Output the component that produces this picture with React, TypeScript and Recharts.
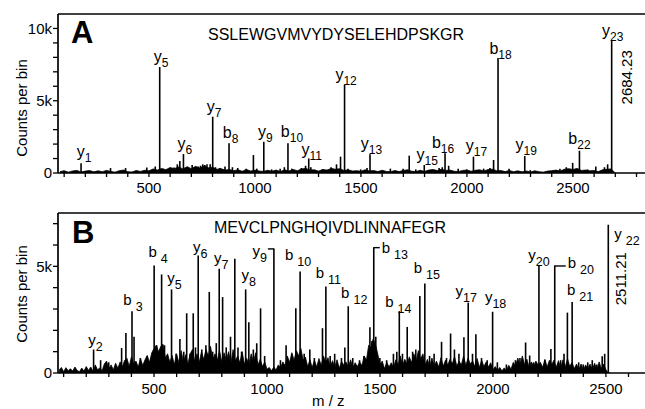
import { Area, AreaChart, Bar, BarChart, LabelList, ReferenceLine, XAxis, YAxis } from "recharts";

const FONT = "'Liberation Sans', Arial, Helvetica, sans-serif";
const INK = "#000";

// ---- Panel A: SSLEWGVMVYDYSELEHDPSKGR ----
const seqA = "SSLEWGVMVYDYSELEHDPSKGR";
const mzA = [
  181, 320, 391, 491, 531, 552, 600, 620, 635, 647,
  664, 690, 705, 720, 735, 745, 755, 765, 775, 790,
  802, 815, 835, 860, 879, 895, 920, 960, 994, 1010,
  1043, 1080, 1120, 1140, 1157, 1175, 1220, 1240, 1255, 1265,
  1320, 1360, 1386, 1405, 1424, 1440, 1500, 1530, 1544, 1640,
  1700, 1729, 1760, 1800, 1870, 1885, 1898, 1915, 1960, 2000,
  2032, 2080, 2110, 2127, 2148, 2200, 2274, 2300, 2440, 2470,
  2500, 2532, 2570, 2609, 2650, 2665, 2684,
];
const countsA = [
  670, 340, 340, 380, 450, 7330, 300, 380, 600, 830,
  1310, 350, 550, 400, 450, 500, 600, 550, 600, 600,
  3890, 400, 350, 450, 2050, 400, 350, 300, 1240, 300,
  2160, 250, 300, 400, 2050, 300, 350, 500, 1010, 400,
  250, 400, 600, 1130, 6120, 300, 250, 350, 1290, 300,
  300, 1200, 250, 550, 350, 400, 1360, 500, 300, 250,
  1130, 300, 350, 900, 7960, 300, 1170, 200, 300, 400,
  700, 1540, 250, 450, 400, 600, 9180,
];
const ionsA: Record<number, string> = {
  181: "y1", 552: "y5", 664: "y6", 802: "y7", 879: "b8", 1043: "y9", 1157: "b10",
  1255: "y11", 1424: "y12", 1544: "y13", 1800: "y15", 1898: "b16", 2032: "y17",
  2148: "b18", 2274: "y19", 2532: "b22", 2684: "y23",
};
// baseline noise, one value per 20 m/z bin starting at 80
const noiseStartA = 80;
const noiseStepA = 20;
const noiseA = [
  90, 160, 60, 140, 180, 70, 130, 170, 80, 150,
  90, 180, 110, 60, 160, 200, 90, 70, 170, 110,
  190, 150, 280, 200, 320, 230, 380, 300, 420, 280,
  440, 300, 460, 340, 480, 360, 400, 260, 300, 200,
  240, 160, 220, 120, 240, 130, 200, 140, 110, 190,
  120, 200, 100, 220, 140, 240, 160, 280, 320, 200,
  220, 130, 240, 200, 320, 260, 300, 180, 220, 140,
  160, 120, 220, 140, 170, 100, 190, 110, 90, 170,
  100, 180, 220, 120, 100, 190, 110, 200, 240, 170,
  260, 180, 200, 120, 100, 180, 200, 120, 190, 220,
  140, 240, 260, 160, 170, 100, 170, 90, 150, 80,
  140, 70, 150, 90, 60, 130, 160, 200, 140, 260,
  300, 240, 320, 180, 200, 150, 170, 100, 220, 260,
  280, 0,
];
const ticksXA = [100, 200, 300, 400, 500, 600, 700, 800, 900, 1000, 1100, 1200, 1300, 1400,
  1500, 1600, 1700, 1800, 1900, 2000, 2100, 2200, 2300, 2400, 2500, 2600, 2700, 2800];
const ticksYA = [0, 1000, 2000, 3000, 4000, 5000, 6000, 7000, 8000, 9000, 10000];

// ---- Panel B: MEVCLPNGHQIVDLINNAFEGR ----
const seqB = "MEVCLPNGHQIVDLINNAFEGR";
const mzB = [
  233, 264, 300, 357, 376, 403, 412, 440, 470, 501,
  512, 534, 547, 578, 598, 615, 632, 645, 660, 674,
  684, 696, 712, 730, 745, 760, 776, 789, 804, 820,
  839, 858, 872, 888, 906, 920, 940, 955, 972, 990,
  1031, 1060, 1085, 1110, 1128, 1147, 1165, 1190, 1210, 1246,
  1261, 1280, 1300, 1330, 1345, 1360, 1380, 1410, 1430, 1456,
  1465, 1473, 1482, 1500, 1530, 1560, 1575, 1586, 1600, 1621,
  1645, 1659, 1677, 1699, 1720, 1740, 1773, 1795, 1813, 1830,
  1850, 1872, 1891, 1910, 1925, 1950, 1975, 1999, 2020, 2060,
  2100, 2120, 2145, 2163, 2180, 2204, 2230, 2257, 2274, 2300,
  2315, 2330, 2351, 2380, 2400, 2420, 2440, 2460, 2484, 2495,
  2511,
];
const countsB = [
  1100, 600, 500, 1170, 1880, 2900, 1700, 700, 800, 5040,
  1300, 4620, 1300, 3920, 900, 1590, 1000, 2800, 900, 2800,
  1200, 5510, 1100, 1300, 3800, 1000, 1400, 4890, 3560, 1200,
  1700, 5350, 1200, 1000, 3920, 2380, 1100, 1400, 3030, 800,
  5840, 600, 1300, 900, 3030, 4760, 900, 1100, 700, 2100,
  4060, 800, 900, 700, 1200, 3130, 700, 600, 800, 2150,
  1500, 5900, 1700, 700, 600, 900, 1000, 2900, 900, 2160,
  1000, 1100, 3610, 4190, 800, 900, 1460, 700, 1850, 1100,
  900, 1670, 3300, 900, 1820, 700, 600, 2870, 500, 400,
  600, 700, 1430, 820, 500, 5040, 600, 1120, 5040, 600,
  900, 2830, 3330, 500, 400, 500, 600, 400, 790, 900,
  6950,
];
const ionsB: Record<number, string> = {
  233: "y2", 403: "b3", 501: "b4", 578: "y5", 696: "y6", 789: "y7", 906: "y8",
  1031: "y9", 1147: "b10", 1261: "b11", 1360: "b12", 1473: "b13", 1586: "b14",
  1699: "b15", 1891: "y17", 1999: "y18", 2204: "y20", 2274: "b20", 2351: "b21",
  2511: "y22",
};
// baseline noise, one value per 10 m/z bin starting at 80
const noiseStartB = 80;
const noiseStepB = 10;
const noiseB = [
  140, 260, 60, 250, 110, 200, 90, 280, 120, 60,
  230, 90, 300, 120, 280, 80, 380, 150, 240, 110,
  420, 560, 200, 380, 150, 460, 220, 520, 300, 600,
  700, 300, 760, 420, 560, 280, 680, 350, 620, 820,
  500, 950, 1150, 1300, 1000, 1250, 1350, 700, 900, 500,
  820, 400, 900, 480, 1050, 520, 860, 420, 900, 1100,
  560, 900, 500, 1000, 640, 1100, 800, 1250, 650, 900,
  600, 1050, 520, 950, 600, 1000, 450, 1100, 560, 800,
  480, 1000, 420, 700, 380, 900, 520, 950, 380, 650,
  300, 520, 180, 260, 100, 280, 140, 380, 250, 520,
  350, 800, 500, 950, 600, 1050, 800, 1150, 600, 750,
  300, 620, 260, 600, 280, 680, 350, 800, 500, 720,
  300, 580, 260, 620, 220, 540, 380, 520, 280, 620,
  260, 480, 300, 520, 350, 800, 600, 1300, 1200, 1600,
  1350, 900, 380, 560, 200, 500, 280, 480, 250, 620,
  380, 800, 350, 640, 420, 760, 480, 900, 560, 1050,
  650, 900, 380, 640, 300, 700, 320, 560, 280, 720,
  320, 600, 380, 640, 420, 780, 320, 560, 380, 800,
  360, 700, 420, 560, 300, 680, 260, 600, 300, 520,
  280, 480, 150, 300, 120, 260, 100, 240, 120, 360,
  180, 500, 320, 700, 360, 800, 400, 650, 280, 520,
  300, 560, 380, 500, 260, 640, 280, 600, 400, 600,
  260, 580, 240, 620, 280, 680, 300, 500, 200, 420,
  140, 420, 120, 380, 200, 420, 160, 460, 150, 520,
  200, 420, 160, 0, 0,
];
const ticksXB = [100, 200, 300, 400, 500, 600, 700, 800, 900, 1000, 1100, 1200, 1300,
  1400, 1500, 1600, 1700, 1800, 1900, 2000, 2100, 2200, 2300, 2400, 2500, 2600];
const ticksYB = [0, 1000, 2000, 3000, 4000, 5000, 6000, 7000];

const peaksA = mzA.map((mz, i) => ({ mz, counts: countsA[i], ion: ionsA[mz] ?? "" }));
const peaksB = mzB.map((mz, i) => ({ mz, counts: countsB[i], ion: ionsB[mz] ?? "" }));
const binsA = noiseA.map((counts, i) => ({ mz: noiseStartA + i * noiseStepA, counts }));
const binsB = noiseB.map((counts, i) => ({ mz: noiseStartB + i * noiseStepB, counts }));

// label placement (pixels, relative to the top of the peak)
type Place = {
  dx?: number; above?: number; anchor?: "start" | "middle" | "end";
  bracket?: number; spaced?: boolean; mass?: string; massDx?: number; massDy?: number;
};
type LabelFont = { main: number; sub: number; drop: number; dx: number; above: number; spaceB: boolean };

const placeA: Record<string, Place> = {
  y1: { dx: 3, above: 6 }, b10: { dx: 4, above: 6 }, y11: { dx: 3, above: 3 },
  y15: { dx: 3 }, b16: { dx: -2 }, y17: { dx: 3, above: 6 }, b18: { dx: 2.5, above: 3.5 },
  y19: { above: 6 }, b22: { dx: 0, above: 7 },
  y23: { dx: 1, above: 4, mass: "2684.23", massDx: 20, massDy: 37 },
};
const placeB: Record<string, Place> = {
  y2: { dx: 2, above: 5 }, b3: { dx: 1, above: 6 }, b4: { dx: 4, above: 8 },
  y5: { dx: 3, above: 6 }, y6: { dx: 2, above: 3 }, y7: { dx: 2, above: 6 },
  y8: { dx: 3, above: 9 }, y9: { anchor: "end", dx: -7, above: -8, bracket: -6 },
  b10: { dx: -2, above: 11 }, b11: { dx: 2.5, above: 8 }, b12: { dx: 6, above: 8 },
  b13: { anchor: "start", dx: 8, above: -6, bracket: 6 }, b14: { dx: -1, above: 4 },
  b15: { dx: 2, above: 11 }, y17: { dx: -2, above: 7 }, y18: { dx: 3, above: 10 },
  y20: { dx: 0, above: 5 }, b20: { anchor: "start", dx: 13, above: -3, bracket: 11 },
  b21: { dx: 8, above: 7 },
  y22: { anchor: "start", dx: 6, above: -14, spaced: true, mass: "2511.21", massDx: 18, massDy: 54 },
};

const fontA: LabelFont = { main: 16, sub: 12, drop: 5, dx: 1.5, above: 5, spaceB: false };
const fontB: LabelFont = { main: 15, sub: 12.5, drop: 6, dx: 2, above: 6, spaceB: true };

function renderPeakLabel(p: any, place: Record<string, Place>, f: LabelFont) {
  const ion = String(p.value ?? "");
  if (!ion) return null;
  const vb = p.viewBox ?? p;
  const cx = Number(vb.x ?? p.x) + Number(vb.width ?? p.width ?? 0) / 2;
  const top = Number(vb.y ?? p.y);
  const l = place[ion] ?? {};
  const letter = ion[0];
  const num = ion.slice(1);
  const spaced = l.spaced || (f.spaceB && letter === "b");
  return (
    <g key={`lab-${ion}`}>
      {l.bracket ? (
        <line x1={cx} x2={cx + l.bracket} y1={top + 0.5} y2={top + 0.5} stroke={INK} strokeWidth={1.4} />
      ) : null}
      <text
        x={cx + (l.dx ?? f.dx)}
        y={top - (l.above ?? f.above)}
        textAnchor={l.anchor ?? "middle"}
        fontFamily={FONT}
        fontSize={f.main}
        fill={INK}
      >
        {letter}
        <tspan dx={spaced ? 4 : 0} dy={f.drop} fontSize={f.sub}>
          {num}
        </tspan>
      </text>
      {l.mass ? (
        <text
          transform={`translate(${cx + (l.massDx ?? 0)}, ${top + (l.massDy ?? 0)}) rotate(-90)`}
          textAnchor="middle"
          fontFamily={FONT}
          fontSize={15}
          fill={INK}
        >
          {l.mass}
        </text>
      ) : null}
    </g>
  );
}

const fmtK = (v: number) => (v === 0 ? "0" : v % 5000 === 0 ? `${v / 1000}k` : "");
const fmtMz = (v: number) => (v % 500 === 0 ? String(v) : "");

const axisTick = { fill: INK, fontSize: 15, fontFamily: FONT };
const axisLine = { stroke: INK, strokeWidth: 1.7 };
const tickLine = { stroke: INK, strokeWidth: 1.3 };

type PanelProps = {
  height: number;
  top: number;
  xAxisHeight: number;
  xDomain: [number, number];
  yMax: number;
  xTicks: number[];
  yTicks: number[];
  tickMargin: number;
  peaks: { mz: number; counts: number; ion: string }[];
  bins: { mz: number; counts: number }[];
  place: Record<string, Place>;
  font: LabelFont;
};

function SpectrumPanel(p: PanelProps) {
  const W = 645;
  return (
    <div style={{ position: "relative", width: W, height: p.height }}>
      <div style={{ position: "absolute", left: 0, top: 0 }}>
        <AreaChart
          width={W}
          height={p.height}
          data={p.bins}
          margin={{ top: p.top, right: 0, bottom: p.xAxisHeight, left: 58 }}
        >
          <XAxis type="number" dataKey="mz" domain={p.xDomain} allowDataOverflow hide />
          <YAxis type="number" domain={[0, p.yMax]} allowDataOverflow hide />
          <Area
            type="linear"
            dataKey="counts"
            stroke={INK}
            strokeWidth={0.8}
            fill={INK}
            fillOpacity={1}
            dot={false}
            activeDot={false}
            isAnimationActive={false}
          />
        </AreaChart>
      </div>
      <div style={{ position: "absolute", left: 0, top: 0 }}>
        <BarChart
          width={W}
          height={p.height}
          data={p.peaks}
          margin={{ top: p.top, right: 0, bottom: 0, left: 0 }}
        >
          <XAxis
            type="number"
            dataKey="mz"
            domain={p.xDomain}
            ticks={p.xTicks}
            interval={0}
            allowDataOverflow
            tickFormatter={fmtMz}
            height={p.xAxisHeight}
            tickSize={4}
            tickMargin={p.tickMargin}
            tick={axisTick}
            axisLine={axisLine}
            tickLine={tickLine}
          />
          <YAxis
            type="number"
            domain={[0, p.yMax]}
            ticks={p.yTicks}
            interval={0}
            allowDataOverflow
            tickFormatter={fmtK}
            width={58}
            tickSize={5}
            tickMargin={1}
            tick={axisTick}
            axisLine={axisLine}
            tickLine={tickLine}
          />
          <ReferenceLine y={p.yMax} stroke={INK} strokeWidth={1.7} />
          <Bar dataKey="counts" fill={INK} barSize={1.6} isAnimationActive={false}>
            <LabelList dataKey="ion" content={(lp: any) => renderPeakLabel(lp, p.place, p.font)} />
          </Bar>
        </BarChart>
      </div>
    </div>
  );
}

export default function App() {
  return (
    <div style={{ position: "absolute", left: 0, top: 0, width: 645, height: 409, background: "#fff" }}>
      <SpectrumPanel
        height={195}
        top={14}
        xAxisHeight={22}
        xDomain={[71, 2840]}
        yMax={11000}
        xTicks={ticksXA}
        yTicks={ticksYA}
        tickMargin={5}
        peaks={peaksA}
        bins={binsA}
        place={placeA}
        font={fontA}
      />
      <SpectrumPanel
        height={214}
        top={18}
        xAxisHeight={36}
        xDomain={[75, 2673]}
        yMax={7500}
        xTicks={ticksXB}
        yTicks={ticksYB}
        tickMargin={6}
        peaks={peaksB}
        bins={binsB}
        place={placeB}
        font={fontB}
      />
      <svg
        width={645}
        height={409}
        style={{ position: "absolute", left: 0, top: 0, pointerEvents: "none" }}
        fontFamily={FONT}
        fill={INK}
      >
        <text x={71} y={43} fontSize={31} fontWeight="bold">A</text>
        <text x={208} y={40} fontSize={16}>{seqA}</text>
        <text transform="translate(27,108) rotate(-90)" textAnchor="middle" fontSize={15}>Counts per bin</text>
        <text x={72} y={243} fontSize={31} fontWeight="bold">B</text>
        <text x={214} y={233} fontSize={16}>{seqB}</text>
        <text transform="translate(27,294) rotate(-90)" textAnchor="middle" fontSize={15}>Counts per bin</text>
        <text x={312} y={406} fontSize={15}>m / z</text>
      </svg>
    </div>
  );
}
